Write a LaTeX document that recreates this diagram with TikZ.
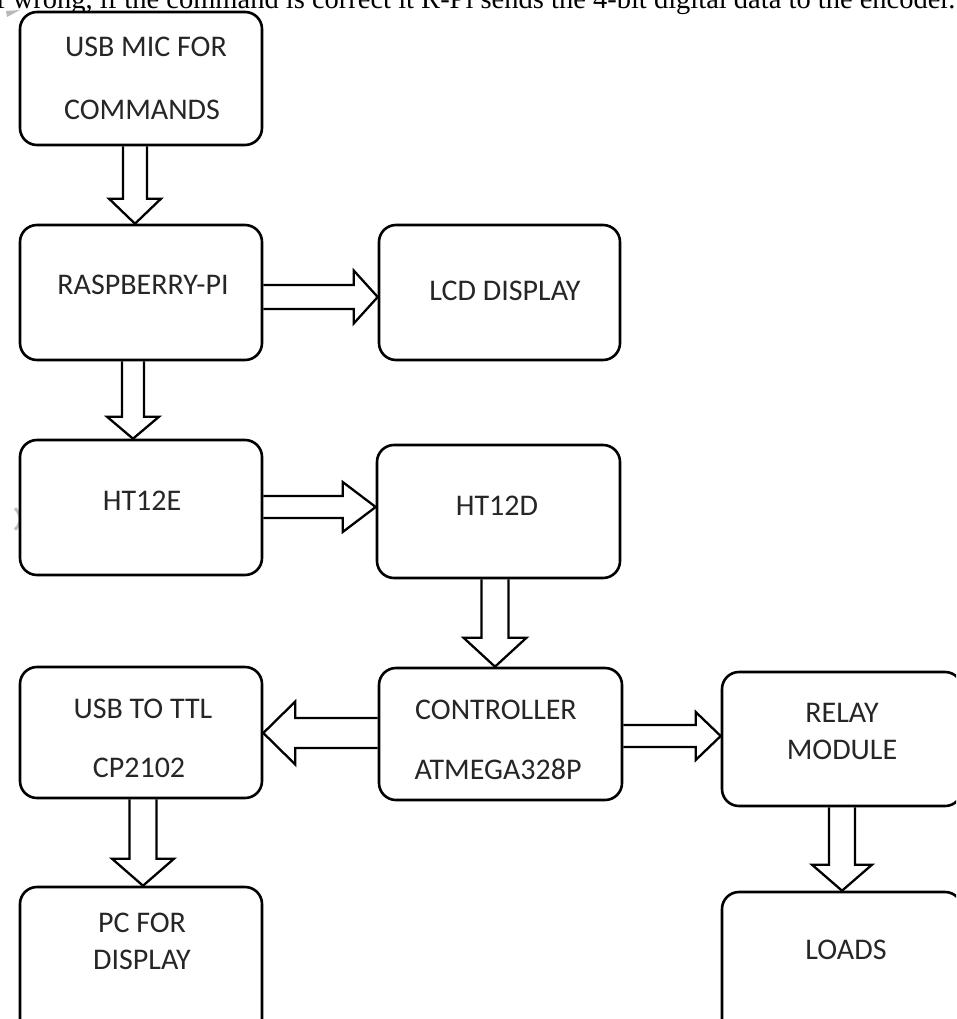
\documentclass[tikz,border=0pt]{standalone}
\usepackage{fontspec}
\setmainfont{Carlito}
\newfontfamily\serifx{Liberation Serif}
\usetikzlibrary{calc}
\tikzset{
  box/.style={draw=black, line width=2.6pt, rounded corners=17pt, inner sep=0pt, fill=white},
  lbl/.style={inner sep=0pt, text=black!85, font=\fontsize{30}{36}\selectfont},
  blk/.style={draw=black, line width=2.3pt, line join=miter},
}
\newcommand{\blkdown}[6]{%
  \coordinate (ax) at (#3,0);
  \draw[blk] ($(#1.south -| ax)+(-#4,0)$) -- ($(#2.north -| ax)+(-#4,-#6)$) -- ($(#2.north -| ax)+(-#5,-#6)$) -- (#2.north -| ax) -- ($(#2.north -| ax)+(#5,-#6)$) -- ($(#2.north -| ax)+(#4,-#6)$) -- ($(#1.south -| ax)+(#4,0)$);
}
\newcommand{\blkright}[6]{%
  \coordinate (ay) at (0,#3);
  \draw[blk] ($(#1.east |- ay)+(0,-#4)$) -- ($(#2.west |- ay)+(-#6,-#4)$) -- ($(#2.west |- ay)+(-#6,-#5)$) -- (#2.west |- ay) -- ($(#2.west |- ay)+(-#6,#5)$) -- ($(#2.west |- ay)+(-#6,#4)$) -- ($(#1.east |- ay)+(0,#4)$);
}
\newcommand{\blkleft}[6]{%
  \coordinate (ay) at (0,#3);
  \draw[blk] ($(#1.west |- ay)+(0,-#4)$) -- ($(#2.east |- ay)+(#6,-#4)$) -- ($(#2.east |- ay)+(#6,-#5)$) -- (#2.east |- ay) -- ($(#2.east |- ay)+(#6,#5)$) -- ($(#2.east |- ay)+(#6,#4)$) -- ($(#1.west |- ay)+(0,#4)$);
}
\begin{document}
\begin{tikzpicture}[x=1pt,y=-1pt]
\useasboundingbox (0,0) rectangle (956,1019);
\fill[white] (0,0) rectangle (956,1019);
\clip (0,0) rectangle (956,1019);

% cut-off text line at the top (cut in the reference too)
\node[anchor=base west, inner sep=0pt, font=\serifx\fontsize{28.5}{32}\selectfont, text=black] (toptext) at (-4,9)
  {f wrong, if the command is correct it R-Pi sends the 4-bit digital data to the encoder.};

% stray grey marks at left
\fill[gray!55] (6,11) -- (20,10) -- (7,17) -- cycle;
\draw[gray!50, line width=3pt] (6,519) ++(-50:14) arc[start angle=-50, end angle=50, radius=14];

% boxes
\node[box, minimum width=242, minimum height=133] (mic)   at (141,78.5) {};
\node[box, minimum width=242, minimum height=135] (rpi)   at (141,292.5) {};
\node[box, minimum width=241, minimum height=135] (lcd)   at (499.5,292.5) {};
\node[box, minimum width=242, minimum height=135] (enc)   at (141,507.5) {};
\node[box, minimum width=243, minimum height=133] (dec)   at (498.5,511.5) {};
\node[box, minimum width=242, minimum height=131] (ttl)   at (141,732.5) {};
\node[box, minimum width=243, minimum height=132] (ctrl)  at (500.5,734) {};
\node[box, minimum width=240, minimum height=134] (relay) at (842,739) {};
\node[box, minimum width=240, minimum height=160] (loads) at (842,972) {};
\node[box, minimum width=242, minimum height=160] (pc)    at (141,967) {};

% labels
\node[lbl] (t1)  at (146,47)  {USB MIC FOR};
\node[lbl] (t2)  at (142,110) {COMMANDS};
\node[lbl] (t3)  at (143,285) {RASPBERRY-PI};
\node[lbl] (t4)  at (505,291) {LCD DISPLAY};
\node[lbl] (t5)  at (142,501) {HT12E};
\node[lbl] (t6)  at (497,506) {HT12D};
\node[lbl] (t7)  at (143,709) {USB TO TTL};
\node[lbl] (t8)  at (139,768) {CP2102};
\node[lbl] (t9)  at (496,710) {CONTROLLER};
\node[lbl] (t10) at (498,769) {ATMEGA328P};
\node[lbl] (t11) at (842,713) {RELAY};
\node[lbl] (t12) at (842,750) {MODULE};
\node[lbl] (t13) at (846,950) {LOADS};
\node[lbl] (t14) at (142,923) {PC FOR};
\node[lbl] (t15) at (142,960) {DISPLAY};

% block arrows
\blkdown{mic}{rpi}{135}{12}{26}{25}
\blkdown{rpi}{enc}{133}{11}{26}{22}
\blkdown{dec}{ctrl}{495}{13.5}{31.5}{29}
\blkdown{ttl}{pc}{143}{13.5}{31}{27}
\blkdown{relay}{loads}{842}{13}{30}{26}
\blkright{rpi}{lcd}{297}{12}{26.5}{24}
\blkright{enc}{dec}{507}{11}{25}{33}
\blkright{ctrl}{relay}{736}{11}{24}{25}
\blkleft{ctrl}{ttl}{733}{15}{31.5}{32}
\end{tikzpicture}
\end{document}
